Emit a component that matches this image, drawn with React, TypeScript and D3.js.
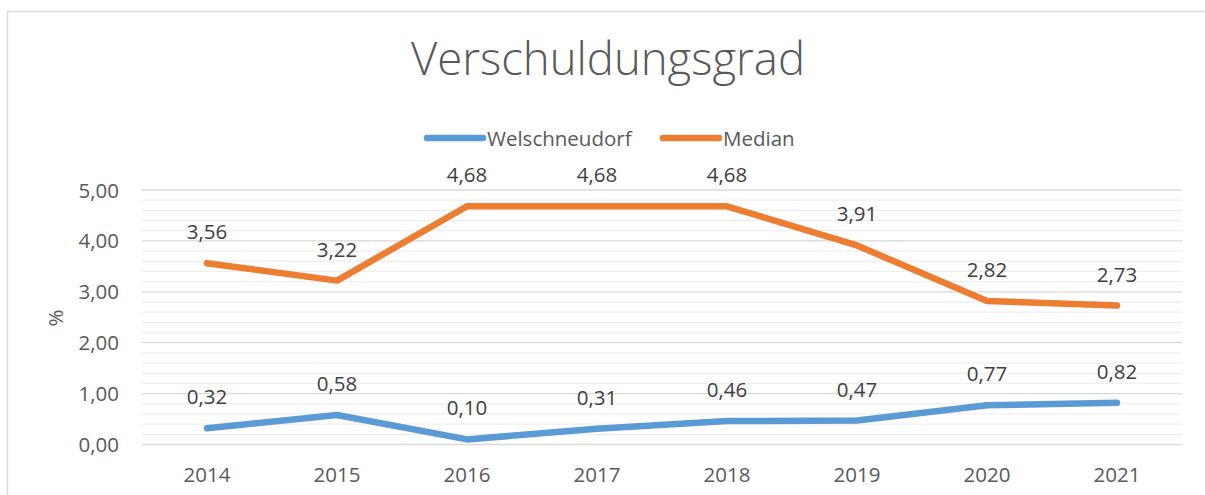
import { useEffect, useRef } from "react";
import * as d3 from "d3";

const years = ["2014", "2015", "2016", "2017", "2018", "2019", "2020", "2021"];
const welschneudorf = [0.32, 0.58, 0.1, 0.31, 0.46, 0.47, 0.77, 0.82];
const median = [3.56, 3.22, 4.68, 4.68, 4.68, 3.91, 2.82, 2.73];
const yTicks = [0, 1, 2, 3, 4, 5];

const seriesList = [
  { name: "Welschneudorf", values: welschneudorf, color: "#5b9bd5" },
  { name: "Median", values: median, color: "#ed7d31" },
];

const FONT = "'Open Sans', sans-serif";
const TXT = "#595959";
const FS = 20.5;

export default function App() {
  const ref = useRef<SVGSVGElement>(null);

  useEffect(() => {
    const svg = d3.select(ref.current);
    svg.selectAll("*").remove();
    const width = 1205;
    const height = 495;
    const margin = { top: 190, right: 23, bottom: 50.5, left: 142 };
    const innerWidth = width - margin.left - margin.right;
    const innerHeight = height - margin.top - margin.bottom;

    // chart border (cut off at right and bottom)
    svg.append("path")
      .attr("d", "M7.5,600 V11.5 H1400")
      .attr("fill", "none").attr("stroke", "#d9d9d9").attr("stroke-width", 1.5);

    const xScale = d3.scaleBand().domain(years).range([0, innerWidth]);
    const yScale = d3.scaleLinear().domain([0, 5]).range([innerHeight, 0]);

    const g = svg.append("g")
      .attr("transform", `translate(${margin.left}, ${margin.top})`);

    // minor grid lines
    const minor = d3.range(0, 5.001, 0.2).filter(v => Math.abs(v - Math.round(v)) > 0.01);
    g.selectAll(".minor").data(minor).enter().append("line")
      .attr("x1", 0).attr("x2", innerWidth)
      .attr("y1", d => yScale(d)).attr("y2", d => yScale(d))
      .attr("stroke", "#efefef").attr("stroke-width", 1.3);

    // major grid lines
    g.selectAll(".major").data(yTicks).enter().append("line")
      .attr("x1", 0).attr("x2", innerWidth)
      .attr("y1", d => yScale(d)).attr("y2", d => yScale(d))
      .attr("stroke", "#d9d9d9").attr("stroke-width", 1.3);

    // y tick labels
    g.selectAll(".ylab").data(yTicks).enter().append("text")
      .attr("x", -23).attr("y", d => yScale(d) + 7.5)
      .attr("text-anchor", "end")
      .attr("font-family", FONT).attr("font-size", FS).attr("fill", TXT)
      .text(d => d.toFixed(2).replace(".", ","));

    // x tick labels
    g.selectAll(".xlab").data(years).enter().append("text")
      .attr("x", d => xScale(d)! + xScale.bandwidth() / 2)
      .attr("y", innerHeight + 37.5)
      .attr("text-anchor", "middle")
      .attr("font-family", FONT).attr("font-size", FS).attr("fill", TXT)
      .text(d => d);

    // y axis title
    svg.append("text")
      .attr("transform", `translate(63, 318) rotate(-90)`)
      .attr("text-anchor", "middle")
      .attr("font-family", FONT).attr("font-size", FS).attr("fill", TXT)
      .text("%");

    const line = d3.line<number>()
      .x((_, i) => xScale(years[i])! + xScale.bandwidth() / 2)
      .y(d => yScale(d));

    seriesList.forEach(s => {
      g.append("path")
        .attr("d", line(s.values))
        .attr("fill", "none")
        .attr("stroke", s.color)
        .attr("stroke-width", 6.5)
        .attr("stroke-linecap", "round")
        .attr("stroke-linejoin", "round");

      g.selectAll(null).data(s.values).enter().append("text")
        .attr("x", (_, i) => xScale(years[i])! + xScale.bandwidth() / 2)
        .attr("y", d => yScale(d) - 24)
        .attr("text-anchor", "middle")
        .attr("font-family", FONT).attr("font-size", FS).attr("fill", "#404040")
        .text(d => d.toFixed(2).replace(".", ","));
    });

    // title
    svg.append("text")
      .attr("x", 608).attr("y", 75)
      .attr("text-anchor", "middle")
      .attr("font-family", FONT).attr("font-weight", 300)
      .attr("font-size", 45.5).attr("fill", TXT)
      .text("Verschuldungsgrad");

    // legend
    const legendX = [427, 663];
    seriesList.forEach((s, i) => {
      const lg = svg.append("g").attr("transform", `translate(${legendX[i]}, 138)`);
      lg.append("line")
        .attr("x1", 0).attr("x2", 56).attr("y1", 0).attr("y2", 0)
        .attr("stroke", s.color).attr("stroke-width", 6.5)
        .attr("stroke-linecap", "round");
      lg.append("text")
        .attr("x", 60).attr("y", 7.5)
        .attr("font-family", FONT).attr("font-size", FS).attr("fill", TXT)
        .text(s.name);
    });
  }, []);

  return (
    <div style={{ position: "absolute", left: 0, top: 0 }}>
      <svg ref={ref} width={1205} height={495} style={{ display: "block" }}></svg>
    </div>
  );
}
